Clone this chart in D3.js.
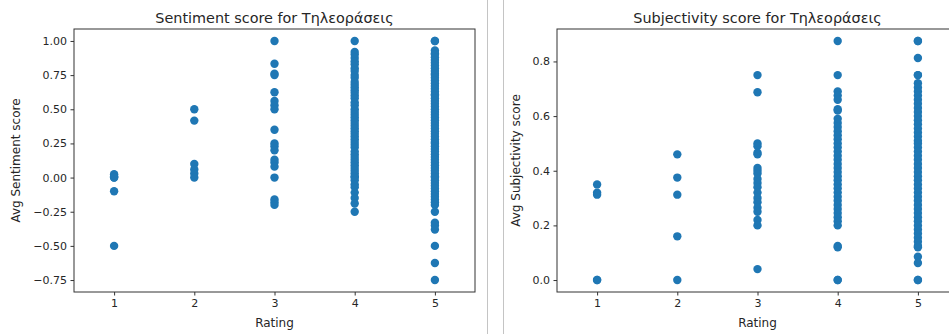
<!DOCTYPE html>
<html>
<head>
<meta charset="utf-8">
<script src="https://cdn.jsdelivr.net/npm/d3@7"></script>
<style>
  body { margin: 0; background: #fff; }
  svg { display: block; font-family: "DejaVu Sans", sans-serif; }
</style>
</head>
<body>
<svg id="chart" width="949" height="334"></svg>
<script>
// ratings on the x axis
const ratings = [1, 2, 3, 4, 5];

// avg sentiment score, one list per rating
const sent1 = [0.025, 0.01, 0.0, 0.0, -0.1, -0.5];
const sent2 = [0.5, 0.417, 0.1, 0.06, 0.03, 0.0];
const sent3 = [1.0, 0.833, 0.76, 0.75, 0.625, 0.56, 0.53, 0.5, 0.35, 0.25, 0.23, 0.2, 0.13, 0.11, 0.08, 0.0, -0.16, -0.18, -0.2];
const sent4 = [1.0, 0.92, 0.9, 0.875, 0.85, 0.83, 0.8, 0.78, 0.75, 0.73, 0.7, 0.68, 0.66, 0.64, 0.62, 0.6, 0.58, 0.55, 0.53, 0.5,
  0.48, 0.46, 0.44, 0.42, 0.4, 0.38, 0.36, 0.34, 0.32, 0.3, 0.28, 0.26, 0.24, 0.22, 0.19, 0.17, 0.15, 0.13, 0.11, 0.09,
  0.07, 0.05, 0.03, 0.01, 0.0, -0.02, -0.05, -0.07, -0.11, -0.15, -0.19, -0.25];
const sent5 = [1.0, 1.0, 0.93, 0.91, 0.9, 0.88, 0.86, 0.84, 0.82, 0.8, 0.78, 0.76, 0.75, 0.73, 0.71, 0.69, 0.67, 0.65, 0.63, 0.61,
  0.6, 0.58, 0.56, 0.54, 0.52, 0.5, 0.48, 0.46, 0.44, 0.42, 0.4, 0.38, 0.36, 0.34, 0.32, 0.3, 0.28, 0.26, 0.25, 0.23,
  0.21, 0.19, 0.17, 0.15, 0.13, 0.11, 0.09, 0.07, 0.05, 0.03, 0.01, 0.0, -0.02, -0.04, -0.06, -0.08, -0.1, -0.12, -0.14, -0.16,
  -0.18, -0.2, -0.25, -0.33, -0.35, -0.38, -0.5, -0.625, -0.75];

// avg subjectivity score, one list per rating
const subj1 = [0.35, 0.32, 0.3125, 0.0, 0.0];
const subj2 = [0.46, 0.375, 0.3125, 0.16, 0.0];
const subj3 = [0.75, 0.6875, 0.5, 0.49, 0.466, 0.46, 0.41, 0.4, 0.39, 0.37, 0.355, 0.34, 0.32, 0.3, 0.285, 0.265, 0.25, 0.22, 0.2, 0.04];
const subj4 = [0.875, 0.75, 0.69, 0.675, 0.66, 0.625, 0.62, 0.59, 0.575, 0.56, 0.545, 0.53, 0.515, 0.5, 0.485, 0.47, 0.455, 0.44, 0.425, 0.41,
  0.395, 0.38, 0.365, 0.35, 0.335, 0.32, 0.305, 0.29, 0.275, 0.26, 0.245, 0.23, 0.215, 0.2, 0.125, 0.12, 0.0, 0.0];
const subj5 = [0.875, 0.875, 0.8125, 0.75, 0.75, 0.72, 0.705, 0.69, 0.675, 0.66, 0.645, 0.63, 0.615, 0.6, 0.585, 0.57, 0.555, 0.54, 0.525, 0.51,
  0.5, 0.485, 0.47, 0.455, 0.44, 0.425, 0.41, 0.395, 0.38, 0.365, 0.35, 0.335, 0.32, 0.305, 0.29, 0.275, 0.26, 0.245, 0.23, 0.215,
  0.2, 0.185, 0.17, 0.155, 0.14, 0.125, 0.12, 0.085, 0.0625, 0.0, 0.0];

const sentTicks = [-0.75, -0.5, -0.25, 0, 0.25, 0.5, 0.75, 1.0];
const subjTicks = [0, 0.2, 0.4, 0.6, 0.8];

const sentiment = [sent1, sent2, sent3, sent4, sent5];
const subjectivity = [subj1, subj2, subj3, subj4, subj5];

const svg = d3.select('#chart');
const dotColor = '#1f77b4';
const inkColor = '#262626';

// separator lines between the two output cells
svg.append('line').attr('x1', 487.5).attr('x2', 487.5).attr('y1', 0).attr('y2', 334)
  .attr('stroke', '#c4c4c4').attr('stroke-width', 1);
svg.append('line').attr('x1', 503.5).attr('x2', 503.5).attr('y1', 0).attr('y2', 334)
  .attr('stroke', '#c4c4c4').attr('stroke-width', 1);

function drawPanel(left, right, top, bottom, yDomain, yTicks, yFmt, series, title, yLabel, yLabelX) {
  let x = d3.scaleLinear().domain([0.5, 5.5]).range([left, right]);
  let y = d3.scaleLinear().domain(yDomain).range([bottom, top]);
  let g = svg.append('g');

  // points
  let pts = [];
  series.forEach((vals, i) => vals.forEach(v => pts.push({ r: ratings[i], v: v })));
  g.selectAll('circle')
    .data(pts).enter().append('circle')
    .attr('cx', d => x(d.r))
    .attr('cy', d => y(d.v))
    .attr('r', 4.2)
    .attr('fill', dotColor);

  // axes
  let yAxis = g.append('g').attr('transform', 'translate(' + left + ',0)')
    .call(d3.axisLeft(y).tickValues(yTicks).tickFormat(d3.format(yFmt)).tickSize(3.5).tickPadding(3.5));
  let xAxis = g.append('g').attr('transform', 'translate(0,' + bottom + ')')
    .call(d3.axisBottom(x).tickValues(ratings).tickFormat(d3.format('d')).tickSize(3.5).tickPadding(3.5));
  [yAxis, xAxis].forEach(a => {
    a.select('.domain').remove();
    a.selectAll('line').attr('stroke', '#333');
    a.selectAll('text').attr('fill', inkColor).style('font-size', '11px').style('font-family', '"DejaVu Sans", sans-serif');
  });

  // frame
  g.append('rect')
    .attr('x', left).attr('y', top)
    .attr('width', right - left).attr('height', bottom - top)
    .attr('fill', 'none').attr('stroke', '#333').attr('stroke-width', 1);

  g.append('text')
    .attr('x', (left + right) / 2).attr('y', 23.3)
    .attr('text-anchor', 'middle')
    .attr('fill', inkColor)
    .style('font-size', '14.4px')
    .text(title);

  g.append('text')
    .attr('x', (left + right) / 2).attr('y', 327)
    .attr('text-anchor', 'middle')
    .attr('fill', inkColor)
    .style('font-size', '12px')
    .text('Rating');

  g.append('text')
    .attr('transform', 'translate(' + yLabelX + ',' + ((top + bottom) / 2) + ') rotate(-90)')
    .attr('text-anchor', 'middle')
    .attr('fill', inkColor)
    .style('font-size', '12px')
    .text(yLabel);
}

drawPanel(74, 475, 29, 292, [-0.8375, 1.0875], sentTicks, '.2f', sentiment,
  'Sentiment score for Τηλεοράσεις', 'Avg Sentiment score', 20.4);
drawPanel(557, 958, 29, 292, [-0.04375, 0.91875], subjTicks, '.1f', subjectivity,
  'Subjectivity score for Τηλεοράσεις', 'Avg Subjectivity score', 520.4);
</script>
</body>
</html>
